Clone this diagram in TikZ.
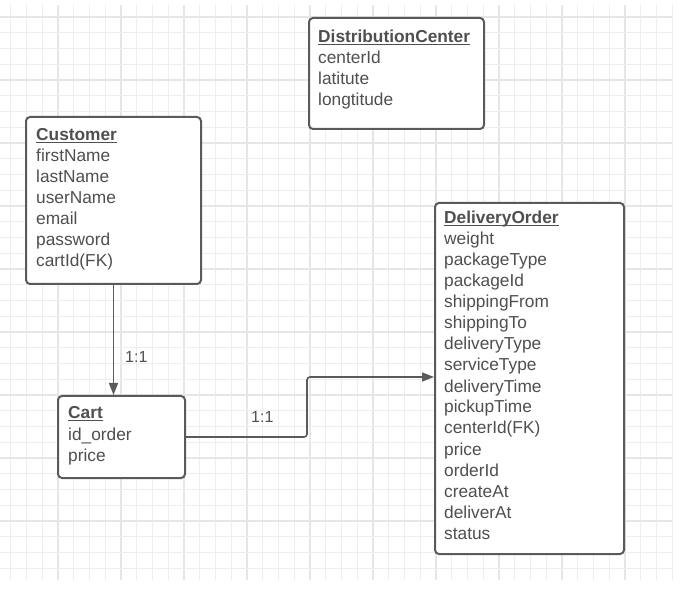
\documentclass[tikz,border=0pt]{standalone}
\usepackage{fontspec}
\setmainfont{Liberation Sans}
\usetikzlibrary{arrows.meta,calc}
\definecolor{gridminor}{HTML}{EEEEEE}
\definecolor{gridmajor}{HTML}{E6E6E6}
\definecolor{inkgray}{HTML}{4F4F4F}
\definecolor{linegray}{HTML}{5A5A5A}
\tikzset{
  entity/.style={draw=linegray, line width=2pt, fill=white, rounded corners=4pt, inner sep=0pt, anchor=north west},
  field/.style={inner sep=0pt, anchor=base west, text=inkgray, font=\fontsize{17.3}{21}\selectfont},
  title/.style={field, font=\fontsize{17.3}{21}\selectfont\bfseries},
  uline/.style={draw=inkgray, line width=1.3pt},
  conn/.style={draw=linegray, line width=1.6pt, rounded corners=3pt, -{Triangle[length=12pt,width=9pt]}},
  lbl/.style={inner sep=0pt, anchor=base west, text=inkgray, font=\fontsize{16}{20}\selectfont}
}
\begin{document}
\begin{tikzpicture}[x=1pt,y=-1pt]
\useasboundingbox (0,0) rectangle (681,596);
\fill[white] (0,0) rectangle (681,596);
% grid
\foreach \k in {1,...,43} {
  \pgfmathsetmacro{\gx}{-5+15.75*\k}
  \pgfmathtruncatemacro{\mj}{mod(\k,4)==0 ? 1 : 0}
  \ifnum\mj=1
    \draw[gridmajor, line width=1.3pt] (\gx,5) -- (\gx,580);
  \else
    \draw[gridminor, line width=1pt] (\gx,5) -- (\gx,580);
  \fi
}
\foreach \k in {0,...,35} {
  \pgfmathsetmacro{\gy}{17+15.75*\k}
  \pgfmathtruncatemacro{\mj}{mod(\k,4)==0 ? 1 : 0}
  \ifnum\mj=1
    \draw[gridmajor, line width=1.3pt] (0,\gy) -- (672,\gy);
  \else
    \draw[gridminor, line width=1pt] (0,\gy) -- (672,\gy);
  \fi
}
% boxes
\node[entity, minimum width=175pt, minimum height=111pt] (dc) at (308,17) {};
\node[entity, minimum width=175pt, minimum height=167pt] (cust) at (25,116) {};
\node[entity, minimum width=127pt, minimum height=82pt] (cart) at (57,395) {};
\node[entity, minimum width=189pt, minimum height=351pt] (do) at (434,202) {};
% DistributionCenter
\node[title] (dct) at (318,43) {DistributionCenter};
\draw[uline] ([yshift=-1.8pt]dct.base west) -- ([yshift=-1.8pt]dct.base east);
\foreach \t [count=\i] in {centerId,latitute,longtitude}
  \node[field] (dc\i) at (318,43+21*\i) {\t};
% Customer
\node[title] (custt) at (36,141) {Customer};
\draw[uline] ([yshift=-1.8pt]custt.base west) -- ([yshift=-1.8pt]custt.base east);
\foreach \t [count=\i] in {firstName,lastName,userName,email,password,cartId(FK)}
  \node[field] (cust\i) at (36,141+21*\i) {\t};
% Cart
\node[title] (cartt) at (68,419) {Cart};
\draw[uline] ([yshift=-1.8pt]cartt.base west) -- ([yshift=-1.8pt]cartt.base east);
\foreach \t [count=\i] in {id\_order,price}
  \node[field] (cart\i) at (68,419+21*\i) {\t};
% DeliveryOrder
\node[title] (dot) at (444,224) {DeliveryOrder};
\draw[uline] ([yshift=-1.8pt]dot.base west) -- ([yshift=-1.8pt]dot.base east);
\foreach \t [count=\i] in {weight,packageType,packageId,shippingFrom,shippingTo,deliveryType,serviceType,deliveryTime,pickupTime,centerId(FK),price,orderId,createAt,deliverAt,status}
  \node[field] (do\i) at (444,224+21*\i) {\t};
% connectors
\draw[conn] (cust.south) -- (cust.south |- cart.north);
\coordinate (bend) at (307,377);
\draw[conn] (cart.east) -| (bend) -- (bend -| do.west);
% labels
\node[lbl] (l1) at (125,363) {1:1};
\node[lbl] (l2) at (251,423) {1:1};
\end{tikzpicture}
\end{document}
